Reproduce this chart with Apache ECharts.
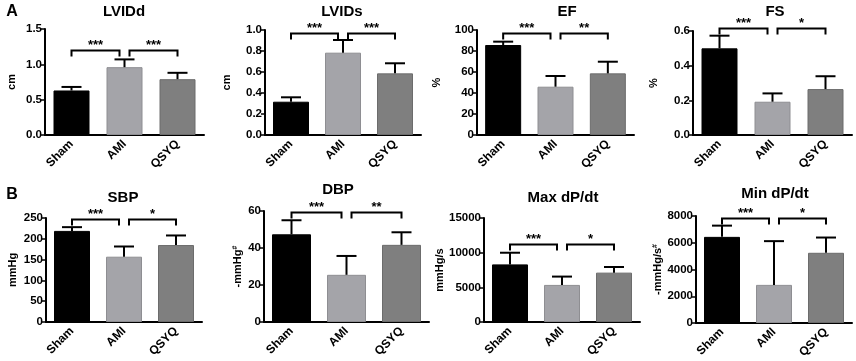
<!DOCTYPE html>
<html>
<head>
<meta charset="utf-8">
<script src="https://cdn.jsdelivr.net/npm/echarts@6/dist/echarts.min.js"></script>
<style>
  html, body { margin: 0; padding: 0; background: #fff; }
  #chart { width: 856px; height: 361px; }
</style>
</head>
<body>
<div id="chart"></div>
<script>
var groups = ['Sham', 'AMI', 'QSYQ'];
var barColors = ['#000000', '#a4a4a9', '#7f7f7f'];
var barBorders = ['#000000', '#8e8e92', '#6c6c6c'];

// panel A
var lviddMean = [0.63, 0.96, 0.79];
var lviddErr = [0.05, 0.11, 0.09];
var lviddStars = ['***', '***'];
var lviddSigY = 1.2;

var lvidsMean = [0.317, 0.784, 0.587];
var lvidsErr = [0.042, 0.121, 0.096];
var lvidsStars = ['***', '***'];
var lvidsSigY = 0.975;

var efMean = [85.7, 46, 58.7];
var efErr = [3.2, 10.2, 11.1];
var efStars = ['***', '**'];
var efSigY = 97.5;

var fsMean = [0.5, 0.192, 0.265];
var fsErr = [0.073, 0.048, 0.074];
var fsStars = ['***', '*'];
var fsSigY = 0.62;

// panel B
var sbpMean = [219, 157, 185];
var sbpErr = [9, 24.5, 23];
var sbpStars = ['***', '*'];
var sbpSigY = 248;

var dbpMean = [47.4, 25.5, 41.7];
var dbpErr = [7.6, 10.2, 6.8];
var dbpStars = ['***', '**'];
var dbpSigY = 59.6;

var maxMean = [8310, 5350, 7120];
var maxErr = [1680, 1200, 810];
var maxStars = ['***', '*'];
var maxSigY = 11230;

var minMean = [6440, 2850, 5250];
var minErr = [840, 3270, 1140];
var minStars = ['***', '*'];
var minSigY = 7880;

var FONT = 'Liberation Sans, Arial, sans-serif';

var panels = [
    { title: 'LVIDd', unit: 'cm', mean: lviddMean, err: lviddErr, stars: lviddStars, sigY: lviddSigY,
      max: 1.5, step: 0.5, dec: 1, left: 45, width: 159, top: 29, y0: 135, gap: 28, tx: 124, ty: 12 },
    { title: 'LVIDs', unit: 'cm', mean: lvidsMean, err: lvidsErr, stars: lvidsStars, sigY: lvidsSigY,
      max: 1.0, step: 0.2, dec: 1, left: 265, width: 156, top: 30, y0: 135, gap: 33, tx: 342, ty: 12 },
    { title: 'EF', unit: '%', mean: efMean, err: efErr, stars: efStars, sigY: efSigY,
      max: 100, step: 20, dec: 0, left: 477, width: 157, top: 30, y0: 135, gap: 35, tx: 567, ty: 12 },
    { title: 'FS', unit: '%', mean: fsMean, err: fsErr, stars: fsStars, sigY: fsSigY,
      max: 0.6, step: 0.2, dec: 1, left: 693, width: 159, top: 31, y0: 135, gap: 34, tx: 775, ty: 12 },
    { title: 'SBP', unit: 'mmHg', mean: sbpMean, err: sbpErr, stars: sbpStars, sigY: sbpSigY,
      max: 250, step: 50, dec: 0, left: 46, width: 156, top: 218, y0: 322, gap: 28, tx: 123, ty: 198 },
    { title: 'DBP', unit: '-mmHg{sup|#}', mean: dbpMean, err: dbpErr, stars: dbpStars, sigY: dbpSigY,
      max: 60, step: 20, dec: 0, left: 264, width: 165, top: 211, y0: 322, gap: 21, tx: 338, ty: 190 },
    { title: 'Max dP/dt', unit: 'mmHg/s', mean: maxMean, err: maxErr, stars: maxStars, sigY: maxSigY,
      max: 15000, step: 5000, dec: 0, left: 484, width: 156, top: 218, y0: 322, gap: 38, tx: 563, ty: 198 },
    { title: 'Min dP/dt', unit: '-mmHg/s{sup|#}', mean: minMean, err: minErr, stars: minStars, sigY: minSigY,
      max: 8000, step: 2000, dec: 0, left: 696, width: 156, top: 216, y0: 323, gap: 33, tx: 775, ty: 194 }
];

var chart = echarts.init(document.getElementById('chart'), null, { renderer: 'canvas' });

var grid = [], xAxis = [], yAxis = [], series = [];
var graphic = [
    { type: 'text', x: 12, y: 12, style: { text: 'A', font: 'bold 16px ' + FONT, fill: '#000', align: 'center', verticalAlign: 'middle' } },
    { type: 'text', x: 12, y: 195, style: { text: 'B', font: 'bold 16px ' + FONT, fill: '#000', align: 'center', verticalAlign: 'middle' } }
];

panels.forEach(function (p, k) {
    grid.push({ left: p.left, width: p.width, top: p.top, height: p.y0 - p.top });

    xAxis.push({
        gridIndex: k,
        type: 'category',
        data: groups,
        axisLine: { lineStyle: { color: '#000', width: 2 } },
        axisTick: { alignWithLabel: true, length: 4, lineStyle: { color: '#000', width: 1.5 } },
        axisLabel: { rotate: 45, margin: 7, color: '#000', fontWeight: 'bold', fontSize: 12, fontFamily: FONT }
    });

    yAxis.push({
        gridIndex: k,
        type: 'value',
        min: 0,
        max: p.max,
        interval: p.step,
        name: p.unit,
        nameLocation: 'middle',
        nameGap: p.gap,
        nameTextStyle: {
            color: '#000', fontWeight: 'bold', fontSize: 11, fontFamily: FONT,
            rich: { sup: { fontSize: 7, fontWeight: 'bold', fontFamily: FONT, color: '#000', verticalAlign: 'top', lineHeight: 11 } }
        },
        axisLine: { show: true, lineStyle: { color: '#000', width: 2 } },
        axisTick: { show: true, length: 4, lineStyle: { color: '#000', width: 1.5 } },
        splitLine: { show: false },
        axisLabel: {
            margin: 3, color: '#000', fontWeight: 'bold', fontSize: 11.5, fontFamily: FONT,
            formatter: function (v) { return v.toFixed(p.dec); }
        }
    });

    series.push({
        type: 'bar',
        xAxisIndex: k, yAxisIndex: k,
        barWidth: k === 5 ? 39 : 36,
        data: p.mean.map(function (v, i) {
            return { value: v, itemStyle: { color: barColors[i], borderColor: barBorders[i], borderWidth: 1 } };
        }),
        z: 2
    });

    // upper error bars
    series.push({
        type: 'custom',
        xAxisIndex: k, yAxisIndex: k,
        z: 3,
        data: p.mean.map(function (v, i) { return [i, v, v + p.err[i]]; }),
        encode: { x: 0, y: [1, 2] },
        renderItem: function (params, api) {
            var a = api.coord([api.value(0), api.value(1)]);
            var b = api.coord([api.value(0), api.value(2)]);
            var st = { stroke: '#000', lineWidth: 2 };
            return {
                type: 'group',
                children: [
                    { type: 'line', shape: { x1: a[0], y1: a[1], x2: b[0], y2: b[1] }, style: st },
                    { type: 'line', shape: { x1: b[0] - 10, y1: b[1], x2: b[0] + 10, y2: b[1] }, style: st }
                ]
            };
        }
    });

    // significance brackets: Sham-AMI and AMI-QSYQ
    series.push({
        type: 'custom',
        xAxisIndex: k, yAxisIndex: k,
        z: 4,
        clip: false,
        data: [[0, 1, p.sigY], [1, 2, p.sigY]],
        encode: { x: [0, 1], y: 2 },
        renderItem: function (params, api) {
            var i0 = api.value(0), i1 = api.value(1);
            var a = api.coord([i0, api.value(2)]);
            var b = api.coord([i1, api.value(2)]);
            var x1 = a[0] + (i0 === 1 ? 5 : 0);
            var x2 = b[0] - (i1 === 1 ? 5 : 0);
            var y = Math.round(a[1]) + 0.5;
            var st = { stroke: '#000', lineWidth: 2, fill: null };
            return {
                type: 'group',
                children: [
                    { type: 'polyline', shape: { points: [[x1, y + 6], [x1, y], [x2, y], [x2, y + 6]] }, style: st },
                    { type: 'text', style: {
                        text: p.stars[params.dataIndex], x: (x1 + x2) / 2, y: y + 1,
                        align: 'center', verticalAlign: 'bottom',
                        font: 'bold 13px ' + FONT, fill: '#000'
                    } }
                ]
            };
        }
    });

    graphic.push({
        type: 'text', x: p.tx, y: p.ty,
        style: { text: p.title, font: 'bold 15px ' + FONT, fill: '#000', align: 'center', verticalAlign: 'middle' }
    });
});

chart.setOption({
    animation: false,
    backgroundColor: '#fff',
    grid: grid,
    xAxis: xAxis,
    yAxis: yAxis,
    series: series,
    graphic: graphic
});
</script>
</body>
</html>
